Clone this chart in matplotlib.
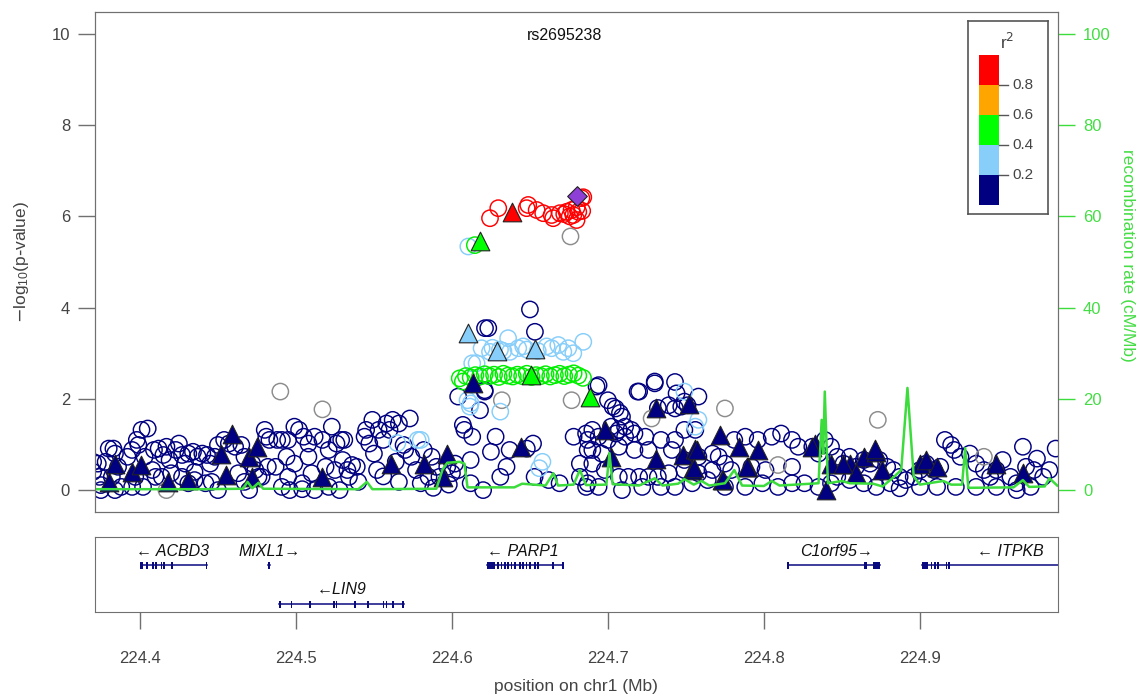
import matplotlib
matplotlib.use("Agg")
import matplotlib.pyplot as plt
from matplotlib.patches import Rectangle

plt.rcParams['font.family'] = ['Liberation Sans', 'DejaVu Sans']

# ---- data (position in Mb, -log10 p) ----
navy_circles = [
    (224.370, 0.62), (224.370, 0.40),
    (224.373, 0.58), (224.374, 0.29), (224.375, 0.11), (224.380, 0.91), (224.383, 0.91),
    (224.384, 0.80), (224.378, 0.62), (224.386, 0.51), (224.382, 0.29), (224.388, 0.07),
    (224.392, 0.73), (224.395, 0.88), (224.398, 1.10), (224.401, 1.32), (224.405, 1.35),
    (224.399, 0.99), (224.403, 0.73), (224.409, 0.88), (224.412, 0.91), (224.415, 0.77),
    (224.417, 0.95), (224.419, 0.66), (224.423, 0.88), (224.425, 1.02), (224.427, 0.77),
    (224.429, 0.58), (224.431, 0.80), (224.434, 0.84), (224.437, 0.73), (224.440, 0.80),
    (224.443, 0.77), (224.445, 0.58), (224.448, 0.73), (224.450, 0.99), (224.454, 1.10),
    (224.457, 1.02), (224.461, 0.95), (224.465, 0.99), (224.467, 0.73), (224.472, 0.58),
    (224.474, 0.44), (224.476, 0.29), (224.480, 1.32), (224.481, 1.17), (224.483, 1.10),
    (224.488, 1.10), (224.491, 1.10), (224.495, 1.10), (224.499, 1.39), (224.502, 1.32),
    (224.505, 1.17), (224.508, 1.02), (224.512, 1.17), (224.517, 1.10), (224.521, 0.88),
    (224.523, 1.39), (224.526, 1.02), (224.529, 1.10), (224.487, 0.51), (224.494, 0.73),
    (224.495, 0.29), (224.499, 0.58), (224.504, 0.15), (224.510, 0.37), (224.508, 0.73),
    (224.519, 0.51), (224.525, 0.44), (224.414, 0.29), (224.420, 0.37), (224.427, 0.29),
    (224.435, 0.22), (224.442, 0.15), (224.446, 0.18), (224.397, 0.29), (224.395, 0.07),
    (224.408, 0.44), (224.410, 0.29), (224.431, 0.15), (224.435, 0.40), (224.450, 0.00),
    (224.463, 0.37), (224.470, 0.00), (224.491, 0.07), (224.496, 0.00), (224.504, 0.02),
    (224.512, 0.00), (224.521, 0.07), (224.528, 0.00), (224.375, 0.00), (224.384, 0.00),
    (224.402, 0.07), (224.467, 0.18), (224.478, 0.29), (224.482, 0.51),
    (224.531, 1.10), (224.530, 0.66), (224.533, 0.44), (224.536, 0.55), (224.534, 0.29),
    (224.539, 0.51), (224.540, 0.18), (224.544, 1.17), (224.545, 1.32), (224.549, 1.54),
    (224.547, 1.02), (224.550, 0.80), (224.552, 0.44), (224.553, 1.32), (224.556, 1.10),
    (224.558, 1.46), (224.560, 1.32), (224.562, 1.54), (224.566, 1.46), (224.569, 0.99),
    (224.570, 0.88), (224.573, 1.57), (224.574, 0.73), (224.577, 0.44), (224.580, 0.15),
    (224.582, 0.88), (224.585, 0.29), (224.587, 0.73), (224.590, 0.51), (224.592, 0.29),
    (224.597, 0.51), (224.600, 0.37), (224.602, 0.58), (224.604, 0.44), (224.607, 1.43),
    (224.608, 1.32), (224.613, 1.17), (224.612, 0.66), (224.612, 0.15), (224.620, 0.00),
    (224.625, 0.84), (224.628, 1.17), (224.631, 0.29), (224.635, 0.51), (224.637, 0.88),
    (224.648, 0.91), (224.652, 1.02), (224.653, 0.29), (224.662, 0.22), (224.669, 0.15),
    (224.678, 1.17), (224.682, 0.58), (224.686, 1.24), (224.687, 0.88), (224.686, 0.07),
    (224.682, 0.29),
    (224.6212, 3.55), (224.6233, 3.55), (224.650, 3.96), (224.6532, 3.47), (224.604, 2.05),
    (224.618, 1.75), (224.621, 2.19), (224.6927, 2.27), (224.700, 1.97), (224.703, 1.83),
    (224.7077, 1.69), (224.719, 2.16), (224.730, 2.34), (224.743, 2.37), (224.744, 2.12),
    (224.751, 1.86), (224.732, 1.80), (224.621, 2.16),
    (224.694, 2.30), (224.705, 1.79), (224.720, 2.16), (224.730, 2.38), (224.749, 1.94),
    (224.758, 2.05), (224.739, 1.86), (224.743, 1.79), (224.747, 1.83), (224.709, 1.61),
    (224.711, 1.39), (224.715, 1.32), (224.707, 1.32), (224.702, 1.39), (224.690, 1.32),
    (224.687, 1.10), (224.694, 1.17), (224.700, 1.10), (224.705, 1.24), (224.711, 1.17),
    (224.717, 1.24), (224.724, 1.17), (224.734, 1.10), (224.743, 1.10), (224.749, 1.32),
    (224.756, 1.32), (224.690, 0.88), (224.696, 0.80), (224.707, 0.95), (224.717, 0.88),
    (224.726, 0.88), (224.741, 0.88), (224.749, 0.66), (224.758, 0.73), (224.767, 0.80),
    (224.771, 0.73), (224.775, 0.58), (224.781, 1.10), (224.788, 1.17), (224.796, 1.10),
    (224.805, 1.17), (224.811, 1.24), (224.818, 1.10), (224.822, 0.95), (224.831, 0.95),
    (224.839, 1.10), (224.835, 0.80), (224.690, 0.58), (224.698, 0.44), (224.707, 0.29),
    (224.713, 0.29), (224.720, 0.29), (224.726, 0.29), (224.732, 0.29), (224.739, 0.37),
    (224.749, 0.44), (224.758, 0.37), (224.767, 0.44), (224.779, 0.44), (224.792, 0.51),
    (224.801, 0.44), (224.818, 0.51), (224.687, 0.15), (224.694, 0.07), (224.709, 0.00),
    (224.722, 0.07), (224.734, 0.07), (224.743, 0.07), (224.754, 0.15), (224.764, 0.22),
    (224.775, 0.07), (224.788, 0.07), (224.799, 0.15), (224.809, 0.07), (224.818, 0.15),
    (224.826, 0.15), (224.835, 0.07), (224.843, 0.15),
    (224.843, 0.95), (224.847, 0.73), (224.851, 0.58), (224.855, 0.73), (224.859, 0.51),
    (224.864, 0.66), (224.868, 0.58), (224.874, 0.66), (224.879, 0.51), (224.883, 0.44),
    (224.887, 0.29), (224.891, 0.22), (224.847, 0.29), (224.855, 0.22), (224.864, 0.15),
    (224.872, 0.07), (224.881, 0.15), (224.896, 0.29), (224.900, 0.44), (224.904, 0.58),
    (224.909, 0.44), (224.913, 0.51), (224.916, 1.10), (224.920, 0.99), (224.922, 0.88),
    (224.926, 0.73), (224.932, 0.80), (224.936, 0.58), (224.941, 0.44), (224.945, 0.29),
    (224.949, 0.44), (224.953, 0.66), (224.958, 0.29), (224.962, 0.15), (224.966, 0.95),
    (224.968, 0.51), (224.973, 0.44), (224.975, 0.69), (224.979, 0.29), (224.983, 0.44),
    (224.987, 0.91), (224.971, 0.07), (224.962, 0.00), (224.949, 0.07), (224.936, 0.07),
    (224.923, 0.07), (224.911, 0.07), (224.900, 0.07), (224.887, 0.04),
    (224.556, 0.30), (224.564, 0.62), (224.588, 0.05), (224.598, 0.12), (224.566, 0.18),
]

lblue_circles = [
    (224.6105, 5.34), (224.619, 3.11), (224.6244, 3.03), (224.6308, 3.08), (224.636, 3.33),
    (224.6372, 3.03), (224.6425, 3.11), (224.6457, 3.15), (224.6607, 3.15), (224.6639, 3.11),
    (224.6682, 3.18), (224.6714, 3.03), (224.6746, 3.11), (224.6778, 3.00), (224.6842, 3.25),
    (224.6158, 2.78), (224.626, 3.12), (224.633, 3.05), (224.648, 3.08), (224.655, 3.05),
    (224.6115, 1.83), (224.631, 1.72), (224.580, 1.10), (224.658, 0.62), (224.656, 0.48),
    (224.610, 1.97), (224.613, 2.78), (224.749, 2.16), (224.758, 1.54), (224.756, 1.39),
    (224.578, 1.10), (224.565, 1.03), (224.612, 1.90),
]

green_circles = [
    (224.6147, 5.37), (224.605, 2.45), (224.607, 2.38), (224.609, 2.50), (224.612, 2.47),
    (224.615, 2.52), (224.618, 2.49), (224.621, 2.54), (224.624, 2.50), (224.627, 2.53),
    (224.630, 2.48), (224.633, 2.55), (224.636, 2.51), (224.639, 2.49), (224.642, 2.53),
    (224.645, 2.50), (224.648, 2.55), (224.651, 2.48), (224.654, 2.52), (224.657, 2.50),
    (224.660, 2.54), (224.663, 2.49), (224.666, 2.52), (224.669, 2.55), (224.672, 2.50),
    (224.675, 2.53), (224.678, 2.56), (224.681, 2.51), (224.684, 2.46),
]

red_circles = [
    (224.6244, 5.96), (224.6297, 6.18), (224.6489, 6.25), (224.6479, 6.18), (224.6543, 6.14),
    (224.6585, 6.07), (224.6639, 6.03), (224.6649, 5.96), (224.6692, 6.07), (224.6735, 6.10),
    (224.6767, 6.14), (224.6778, 6.03), (224.6799, 5.92), (224.6810, 6.10), (224.6842, 6.42),
    (224.6830, 6.40), (224.6720, 6.05), (224.6755, 6.00), (224.6800, 6.20), (224.6835, 6.12),
]

grey_circles = [
    (224.676, 5.56), (224.632, 1.97), (224.6767, 1.97), (224.490, 2.16), (224.517, 1.77),
    (224.728, 1.57), (224.775, 1.79), (224.809, 0.55), (224.873, 1.54), (224.941, 0.73),
    (224.417, 0.00),
]

navy_triangles = [
    (224.380, 0.18), (224.395, 0.40), (224.401, 0.55), (224.384, 0.58), (224.418, 0.18),
    (224.431, 0.22), (224.455, 0.33), (224.459, 1.24), (224.452, 0.80), (224.470, 0.73),
    (224.472, 0.29), (224.475, 0.95), (224.517, 0.29), (224.561, 0.58), (224.582, 0.58),
    (224.597, 0.80), (224.644, 0.95), (224.594, 0.29), (224.6137, 2.34), (224.731, 1.79),
    (224.752, 1.88), (224.698, 1.32), (224.702, 0.73), (224.731, 0.69), (224.748, 0.77),
    (224.756, 0.91), (224.754, 0.44), (224.772, 1.21), (224.773, 0.22), (224.784, 0.95),
    (224.790, 0.51), (224.796, 0.88), (224.833, 1.02), (224.840, 0.00), (224.843, 0.58),
    (224.855, 0.58), (224.864, 0.73), (224.872, 0.84), (224.859, 0.37), (224.876, 0.44),
    (224.900, 0.58), (224.904, 0.66), (224.911, 0.51), (224.949, 0.58), (224.966, 0.37),
    (224.831, 0.95), (224.757, 0.88), (224.755, 0.48), (224.774, 0.22), (224.789, 0.51),
    (224.851, 0.58), (224.871, 0.91),
]
lblue_triangles = [(224.6105, 3.44), (224.6286, 3.06), (224.6532, 3.09)]
green_triangles = [(224.618, 5.45), (224.651, 2.52), (224.6885, 2.05)]
red_triangles = [(224.6385, 6.10)]
lead_snp = (224.680, 6.45)
lead_name = "rs2695238"

# recombination rate (cM/Mb)
recomb = [
    (224.371, 0.2), (224.440, 0.2), (224.466, 0.3), (224.469, 1.8), (224.472, 0.4),
    (224.476, 1.6), (224.479, 0.3), (224.540, 0.2), (224.5455, 1.8), (224.549, 0.2),
    (224.590, 0.3), (224.594, 4.5), (224.597, 6.0), (224.605, 6.2), (224.608, 5.8),
    (224.610, 0.6), (224.640, 0.6), (224.645, 1.4), (224.660, 1.0), (224.665, 3.7),
    (224.668, 1.0), (224.678, 1.2), (224.682, 4.4), (224.686, 1.1), (224.699, 1.2),
    (224.701, 8.1), (224.703, 1.3), (224.720, 1.0), (224.730, 2.6), (224.735, 1.0),
    (224.745, 1.4), (224.749, 2.4), (224.755, 1.2), (224.760, 2.0), (224.765, 1.0),
    (224.775, 1.5), (224.781, 4.4), (224.786, 1.0), (224.800, 0.9), (224.805, 2.0),
    (224.810, 1.0), (224.835, 1.5), (224.837, 15.4), (224.838, 8.0), (224.839, 21.6),
    (224.841, 1.5), (224.850, 2.0), (224.855, 1.5), (224.870, 1.4), (224.876, 0.8),
    (224.882, 2.5), (224.888, 4.4), (224.892, 22.4), (224.896, 3.0), (224.900, 1.2),
    (224.915, 2.0), (224.920, 1.2), (224.927, 1.2), (224.929, 9.2), (224.931, 0.5),
    (224.960, 0.6), (224.966, 2.2), (224.970, 0.7), (224.980, 0.8), (224.983, 2.6),
    (224.988, 1.0),
]

# genes: name, label, row, start, end, exons
genes = [
    ("ACBD3", "\u2190 ACBD3", 0, 224.4005, 224.4428,
     [(224.4002, 224.4018), 224.4047, 224.4085, 224.4103, 224.4139, 224.4154,
      (224.4196, 224.4210), 224.4428]),
    ("MIXL1", "MIXL1\u2192", 0, 224.4818, 224.4832, [(224.4818, 224.4832)]),
    ("LIN9", "\u2190LIN9", 1, 224.4893, 224.5692,
     [(224.4890, 224.4905), 224.4972, 224.5090, 224.5244, 224.5261, 224.5378,
      (224.5458, 224.5470), 224.5560, 224.5581, 224.5624, 224.5688]),
    ("PARP1", "\u2190 PARP1", 0, 224.6222, 224.6713,
     [(224.6222, 224.6276), 224.6297, 224.6318, 224.6340, 224.6361, 224.6382,
      224.6404, 224.6436, 224.6457, 224.6478, 224.6500, 224.6532, 224.6553,
      224.6649, 224.6713]),
    ("C1orf95", "C1orf95\u2192", 0, 224.8156, 224.8744,
     [224.8156, 224.8647, 224.8658, (224.8701, 224.8744)]),
    ("ITPKB", "\u2190 ITPKB", 0, 224.9011, 225.0200,
     [(224.9011, 224.9053), 224.9075, 224.9096, 224.9117, 224.9171, 224.9188]),
]
gene_label_x = {"ACBD3": 224.421, "MIXL1": 224.483, "LIN9": 224.529,
                "PARP1": 224.6455, "C1orf95": 224.8466, "ITPKB": 224.9577}

r2_colors = ['#000080', '#87CEFA', '#00FF00', '#FFA500', '#FF0000']
r2_breaks = ['0.2', '0.4', '0.6', '0.8']
xticks = [224.4, 224.5, 224.6, 224.7, 224.8, 224.9]

# ---- drawing ----
W, H = 1143, 698
xlim = (224.3712, 224.9885)
grey = '#707070'
txt = '#444444'
rec_col = '#3CDC3C'
gene_col = '#0A0A80'

fig = plt.figure(figsize=(W / 100, H / 100), dpi=100)
ax = fig.add_axes([95 / W, 1 - 512 / H, 963 / W, 500 / H])
ax.set_xlim(*xlim)
ax.set_ylim(-0.48, 10.48)


def xy(pts):
    return [p[0] for p in pts], [p[1] for p in pts]


circ_kw = dict(s=138, facecolors='none', linewidths=1.05, zorder=2)
for pts, col in [(navy_circles, r2_colors[0]), (grey_circles, '#8C8C8C'),
                 (lblue_circles, r2_colors[1]), (green_circles, '#00EE00'),
                 (red_circles, r2_colors[4])]:
    x, y = xy(pts)
    ax.scatter(x, y, edgecolors=col, **circ_kw)

tri_kw = dict(s=180, marker='^', edgecolors='#222222', linewidths=0.8, zorder=3)
for pts, col in [(navy_triangles, r2_colors[0]), (lblue_triangles, r2_colors[1]),
                 (green_triangles, r2_colors[2]), (red_triangles, r2_colors[4])]:
    x, y = xy(pts)
    ax.scatter(x, y, c=col, **tri_kw)

ax.scatter([lead_snp[0]], [lead_snp[1]], marker='D', s=100, c='#8E3FD6',
           edgecolors='#222222', linewidths=0.8, zorder=4)

ax.text(224.672, 9.96, lead_name, ha='center', va='center', fontsize=11.5, color='#111111')

ax.set_yticks(range(0, 11, 2))
ax.tick_params(axis='y', direction='out', length=12, width=1, colors=grey,
               labelcolor=txt, labelsize=12, pad=6)
ax.tick_params(axis='x', bottom=False, labelbottom=False)
for s in ax.spines.values():
    s.set_color(grey)

ax2 = ax.twinx()
ax2.set_ylim(-4.8, 104.8)
rx, ry = xy(recomb)
ax2.plot(rx, ry, color=rec_col, lw=1.8, zorder=1)
ax2.set_yticks(range(0, 101, 20))
ax2.tick_params(axis='y', direction='out', length=12, width=1, colors=rec_col,
                labelcolor='#44DD44', labelsize=12, pad=6)
for s in ax2.spines.values():
    s.set_color(grey)

fig.text(22 / W, 1 - 262 / H, r'$-\mathregular{log_{10}(p\text{-}value)}$',
         rotation=90, ha='center', va='center', fontsize=12.5, color=txt)
fig.text(1128 / W, 1 - 255 / H, 'recombination rate (cM/Mb)', rotation=270,
         ha='center', va='center', fontsize=12.5, color='#44DD44')

# legend
lax = fig.add_axes([968 / W, 1 - 214 / H, 80 / W, 193 / H])
lax.set_xlim(0, 80)
lax.set_ylim(193, 0)
lax.set_xticks([])
lax.set_yticks([])
lax.set_facecolor('white')
for s in lax.spines.values():
    s.set_color('#555555')
    s.set_linewidth(1.2)
for i, col in enumerate(r2_colors):
    top = 184 - 30 * (i + 1)
    lax.add_patch(Rectangle((11, top), 20, 30, facecolor=col, edgecolor='none'))
for i, lab in enumerate(r2_breaks):
    yb = 154 - 30 * i
    lax.plot([31, 40], [yb, yb], color='#555555', lw=1)
    lax.text(44, yb, lab, ha='left', va='center', fontsize=11, color=txt)
lax.text(39, 21, r'r$^2$', ha='center', va='center', fontsize=12.5, color=txt)

# gene panel
gax = fig.add_axes([95 / W, 1 - 612 / H, 963 / W, 75 / H])
gax.set_xlim(*xlim)
gax.set_ylim(75, 0)
gax.set_yticks([])
for s in gax.spines.values():
    s.set_color(grey)
row_line = [28, 67]
row_label = [15, 53]
for name, label, row, start, end, exons in genes:
    yl = row_line[row]
    gax.plot([start, end], [yl, yl], color=gene_col, lw=1.1, clip_on=True)
    for ex in exons:
        if isinstance(ex, tuple):
            a, b = ex
        else:
            a, b = ex - 0.0005, ex + 0.0005
        gax.add_patch(Rectangle((a, yl - 3.5), b - a, 7, facecolor=gene_col,
                                edgecolor='none'))
    gax.text(gene_label_x[name], row_label[row], label, ha='center', va='center',
             fontsize=11.5, style='italic', color='#111111')

gax.set_xticks(xticks)
gax.set_xticklabels([f'{t:.1f}' for t in xticks])
gax.tick_params(axis='x', direction='out', length=12, width=1, colors=grey,
                labelcolor=txt, labelsize=12, pad=16)

fig.text(576 / W, 1 - 686 / H, 'position on chr1 (Mb)', ha='center', va='center',
         fontsize=12.5, color=txt)

fig.savefig('out.png', dpi=100)
